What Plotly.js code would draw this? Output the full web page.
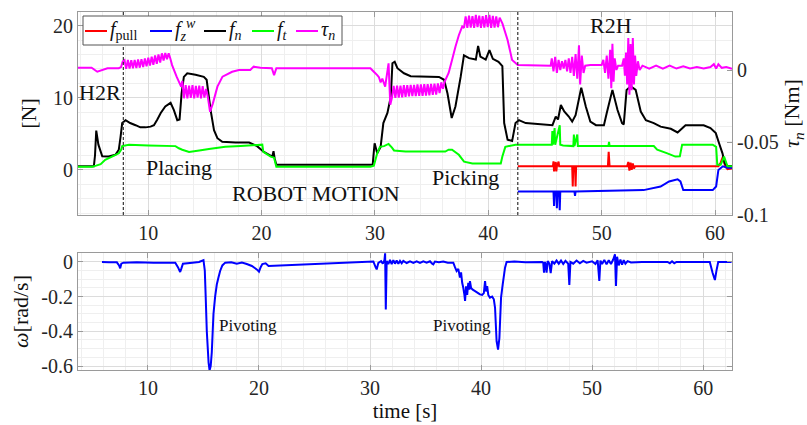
<!DOCTYPE html>
<html>
<head>
<meta charset="utf-8">
<script src="https://cdn.plot.ly/plotly-3.0.1.min.js"></script>
<style>
  html, body { margin: 0; padding: 0; background: #fff; }
  #chart { width: 807px; height: 425px; }
</style>
</head>
<body>
<div id="chart"></div>
<script>
// ---- Measured signals: [time (s), value] ----

// Pull force f_pull [N]
const pullForce = [[42.6,0.5],[45.7,0.5],[45.75,1.2],[45.8,-0.2],[45.85,0.5],[45.95,1.1],[46.0,-0.2],[46.05,0.5],[46.2,1.15],[46.25,0.5],[47.4,0.5],[47.45,-2.3],[47.5,0.5],[47.65,0.5],[47.7,-2.3],[47.75,0.5],[50.55,0.5],[50.62,2.5],[50.7,0.5],[52.25,0.5],[52.35,1.1],[52.45,-0.1],[52.55,1.0],[52.65,0.0],[52.75,0.9],[52.85,0.2],[52.95,0.5],[60.3,0.5],[60.5,1.0],[60.7,1.85],[60.9,0.5],[61.1,0.1],[61.5,0.2]];

// World-frame vertical force f_z^w [N]
const worldForceZ = [[42.6,-3.0],[45.75,-3.0],[45.8,-5.0],[45.85,-3.0],[46.0,-3.0],[46.05,-5.3],[46.1,-3.0],[46.25,-3.0],[46.3,-5.6],[46.35,-3.0],[47.6,-3.0],[47.65,-3.6],[47.7,-3.0],[53.7,-2.8],[55.2,-2.3],[55.95,-1.6],[56.7,-1.3],[56.95,-1.6],[57.2,-2.8],[59.8,-2.8],[60.1,-2.3],[60.3,0.0],[60.7,0.5],[61.1,0.3],[61.5,0.3]];

// Normal force f_n [N]
const normalForce = [[3.8,0.5],[5.2,0.5],[5.3,2.0],[5.41,5.45],[5.6,3.5],[5.94,1.9],[6.5,1.85],[7.1,2.1],[7.4,2.8],[7.55,4.5],[7.7,6.5],[8.0,6.9],[8.4,6.5],[8.88,6.2],[9.3,5.9],[9.76,5.9],[10.2,6.0],[10.5,6.2],[10.8,7.0],[11.1,7.9],[11.5,8.8],[11.97,9.3],[12.26,8.3],[12.56,6.9],[12.76,7.0],[12.94,10.6],[13.14,12.9],[13.44,13.4],[14.17,13.2],[14.9,12.9],[15.15,12.5],[15.5,8.3],[15.8,5.5],[16.1,4.4],[16.53,3.9],[17.7,3.8],[18.9,3.8],[19.6,3.3],[20.2,2.5],[20.94,1.85],[21.05,2.6],[21.15,1.6],[21.3,0.7],[29.8,0.7],[29.86,1.85],[29.97,3.7],[30.2,2.3],[30.5,3.2],[30.74,6.5],[31.1,7.9],[31.4,10.2],[31.54,14.8],[31.74,15.0],[31.98,14.1],[32.56,13.4],[33.15,13.0],[35.65,12.9],[36.1,12.5],[36.4,10.6],[36.77,7.2],[37.1,8.8],[37.56,12.9],[37.85,15.9],[38.3,15.5],[38.9,15.3],[39.1,17.2],[39.3,15.7],[39.77,15.3],[40.1,16.6],[40.4,15.4],[40.9,15.0],[41.24,14.4],[41.4,6.5],[41.7,4.2],[42.1,4.0],[42.4,6.5],[42.7,6.9],[43.3,6.5],[45.66,6.2],[45.95,7.4],[46.15,7.0],[46.4,9.0],[46.7,8.1],[47.1,7.4],[47.4,6.7],[47.7,7.6],[48.2,11.4],[48.6,8.8],[49.0,6.7],[49.5,6.2],[50.2,6.2],[50.45,7.9],[50.95,11.1],[51.4,8.3],[51.8,6.5],[51.95,6.3],[52.2,11.1],[52.57,11.6],[53.0,11.1],[53.45,8.1],[53.9,6.9],[54.6,6.5],[55.2,6.0],[56.1,5.7],[56.7,5.2],[57.4,6.2],[59.0,6.2],[59.6,5.8],[60.07,5.1],[60.36,3.7],[60.66,2.3],[60.86,0.9],[61.1,0.55],[61.5,0.55]];

// Tangential force f_t [N]
const tangentForce = [[3.8,0.45],[5.06,0.45],[5.4,0.6],[5.8,0.8],[6.2,1.4],[6.8,1.85],[7.4,2.3],[7.6,2.8],[7.7,3.3],[8.3,3.5],[10.0,3.4],[12.4,3.3],[12.7,3.0],[13.0,2.8],[13.6,2.5],[14.5,2.7],[15.35,2.9],[16.8,3.2],[18.15,3.3],[20.06,3.5],[20.15,2.5],[20.8,1.85],[21.1,1.7],[21.3,0.45],[29.6,0.45],[29.9,0.6],[30.2,2.3],[30.44,3.2],[30.8,3.3],[31.2,3.6],[31.5,3.1],[31.68,2.7],[32.7,2.55],[36.2,2.55],[36.5,2.8],[36.8,2.8],[37.4,2.1],[37.86,1.15],[38.6,0.9],[41.1,0.9],[41.24,1.85],[41.5,3.2],[42.4,3.5],[45.6,3.5],[45.65,5.4],[45.7,3.5],[45.85,5.8],[45.9,3.5],[46.3,6.2],[46.35,3.5],[46.6,3.4],[47.5,3.3],[47.55,4.9],[47.6,3.3],[47.85,4.9],[47.9,3.3],[50.6,3.3],[50.65,3.9],[50.7,3.3],[54.6,3.3],[54.9,2.8],[55.8,2.3],[56.5,1.85],[56.9,1.9],[57.1,3.5],[59.8,3.5],[60.1,3.2],[60.2,0.7],[60.5,0.7],[60.8,1.85],[61.1,0.5],[61.5,0.5]];

// Normal torque tau_n [Nm] (right axis)
const normalTorque = [[3.8,0.0016],[5.0,0.0016],[5.5,-0.0012],[6.4,0.0012],[7.4,0.0012],[7.6,0.0020],[7.75,0.0060],
[7.9,0.0068],[8.05,0.0008],[8.2,0.0070],[8.35,0.0010],[8.5,0.0068],[8.65,0.0012],[8.8,0.0070],[8.95,0.0014],[9.1,0.0072],[9.25,0.0016],[9.4,0.0075],[9.55,0.0020],[9.7,0.0080],[9.85,0.0025],[10.0,0.0085],[10.15,0.0030],[10.3,0.0092],[10.45,0.0035],[10.6,0.0100],[10.75,0.0042],[10.9,0.0108],[11.05,0.0052],[11.2,0.0115],[11.35,0.0065],[11.5,0.0118],[11.65,0.0075],[11.8,0.0115],[11.95,0.0078],
[12.1,0.0034],[12.5,-0.0046],[12.9,-0.0115],[13.0,-0.0075],
[13.15,-0.0195],[13.3,-0.0105],[13.45,-0.0195],[13.6,-0.0108],[13.75,-0.0192],[13.9,-0.0105],[14.05,-0.0195],[14.2,-0.0110],[14.35,-0.0190],[14.5,-0.0108],[14.65,-0.0195],[14.8,-0.0112],[14.95,-0.0190],[15.1,-0.0130],
[15.25,-0.0184],[15.45,-0.0288],[15.7,-0.0230],[16.1,-0.0115],[16.55,-0.0046],[17.4,-0.0012],[18.0,0.0],[19.0,0.0],[19.3,0.0023],[19.9,0.0016],[20.9,0.0012],[21.1,-0.0035],[21.3,0.0012],[29.6,0.0012],[29.9,-0.0012],[30.2,-0.0035],[30.35,-0.0050],[30.5,-0.0085],[30.65,-0.0060],[30.9,-0.0115],[31.2,0.0046],[31.35,-0.0240],
[31.5,-0.0190],[31.65,-0.0110],[31.8,-0.0192],[31.95,-0.0108],[32.1,-0.0190],[32.25,-0.0108],[32.4,-0.0188],[32.55,-0.0105],[32.7,-0.0185],[32.85,-0.0104],[33.0,-0.0182],[33.15,-0.0102],[33.3,-0.0180],[33.45,-0.0102],[33.6,-0.0180],[33.75,-0.0100],[33.9,-0.0178],[34.05,-0.0100],[34.2,-0.0178],[34.35,-0.0098],[34.5,-0.0176],[34.65,-0.0098],[34.8,-0.0175],[34.95,-0.0096],[35.1,-0.0172],[35.25,-0.0094],[35.4,-0.0170],[35.55,-0.0092],[35.7,-0.0160],[35.85,-0.0085],[36.0,-0.0130],
[36.15,-0.0080],[36.5,-0.0020],[36.8,0.0069],[37.1,0.0160],[37.4,0.0240],[37.7,0.0300],
[37.85,0.0290],[38.0,0.0370],[38.15,0.0290],[38.3,0.0375],[38.45,0.0292],[38.6,0.0372],[38.75,0.0290],[38.9,0.0380],[39.05,0.0295],[39.2,0.0375],[39.35,0.0290],[39.5,0.0372],[39.65,0.0292],[39.8,0.0378],[39.95,0.0295],[40.1,0.0380],[40.25,0.0290],[40.4,0.0374],[40.55,0.0292],[40.7,0.0370],[40.85,0.0295],[41.0,0.0360],
[41.25,0.0320],[41.7,0.0207],[42.1,0.0069],[42.6,0.0034],[45.5,0.0030],
[45.6,0.008],[45.75,-0.001],[45.9,0.009],[46.05,-0.002],[46.2,0.007],[46.35,0.000],[46.5,0.006],[46.65,0.001],[46.8,0.007],[46.95,-0.001],[47.1,0.008],[47.25,-0.002],[47.4,0.009],[47.55,-0.004],[47.7,0.011],[47.85,-0.006],[48.0,0.017],[48.1,-0.010],[48.25,0.010],[48.4,-0.002],[48.55,0.003],
[49.0,0.0034],[50.0,0.0034],
[50.15,0.007],[50.3,-0.002],[50.45,0.010],[50.6,-0.006],[50.75,0.014],[50.85,-0.0126],[50.95,0.018],[51.05,-0.008],[51.15,0.008],[51.3,0.000],[51.45,0.003],
[51.8,0.003],
[51.95,0.008],[52.05,-0.004],[52.15,0.012],[52.25,-0.010],[52.35,0.022],[52.45,-0.017],[52.55,0.018],[52.65,-0.014],[52.75,0.022],[52.85,-0.010],[52.95,0.010],[53.05,-0.004],[53.2,0.006],[53.35,0.000],
[53.6,0.003],[54.2,0.001],[54.8,0.003],[55.4,0.001],[56.0,0.003],[56.6,0.001],[57.2,0.0025],[57.8,0.001],[58.4,0.002],[59.0,0.001],[59.6,0.002],[59.9,0.004],[60.1,0.001],[60.3,0.004],[60.6,0.0015],[61.0,0.002],[61.5,0.0008]];

// Angular velocity omega [rad/s]
const angularVelocity = [[5.86,0.0],[6.5,-0.002],[7.2,-0.002],[7.4,-0.020],[7.5,-0.037],[7.6,-0.010],[7.8,-0.004],[9.0,-0.002],[10.5,-0.004],[12.46,-0.004],[12.7,-0.030],[12.9,-0.058],[13.0,-0.040],[13.15,-0.010],[14.0,-0.004],[14.6,0.0],[15.0,0.010],[15.12,-0.05],[15.2,-0.20],[15.3,-0.40],[15.46,-0.58],[15.55,-0.625],[15.65,-0.60],[15.75,-0.52],[15.9,-0.30],[16.05,-0.20],[16.2,-0.13],[16.35,-0.09],[16.5,-0.052],[16.7,-0.020],[16.96,-0.004],[17.5,-0.002],[18.0,-0.010],[18.46,-0.004],[18.9,-0.012],[19.36,-0.023],[19.8,-0.043],[20.0,-0.056],[20.15,-0.030],[20.3,-0.012],[20.6,-0.008],[20.86,-0.023],[30.3,0.003],[30.5,-0.030],[30.6,-0.043],[30.75,-0.005],[31.0,0.005],[31.15,-0.010],[31.3,0.010],[31.36,0.050],[31.42,-0.274],[31.5,0.005],
[31.65,-0.012],[31.8,0.012],[31.95,-0.012],[32.1,0.010],[32.25,-0.010],[32.4,0.008],[32.55,-0.010],[32.7,0.006],[32.85,-0.008],[33.0,0.006],[33.3,-0.006],[33.6,0.004],[33.9,-0.006],[34.2,0.004],[34.5,-0.006],[34.8,0.004],[35.1,-0.004],[35.4,0.004],[35.6,-0.010],[35.7,-0.014],[35.85,0.002],[36.2,-0.002],[36.6,0.003],[37.0,-0.004],[37.5,-0.004],
[37.65,-0.030],[37.8,-0.052],[37.95,-0.040],[38.1,-0.090],[38.2,-0.060],[38.3,-0.120],[38.4,-0.149],[38.5,-0.190],[38.56,-0.225],[38.65,-0.140],[38.75,-0.190],[38.85,-0.120],[38.95,-0.160],[39.0,-0.110],[39.1,-0.150],[39.25,-0.160],[39.46,-0.168],[39.7,-0.178],[39.9,-0.187],[40.1,-0.190],[40.25,-0.180],[40.36,-0.110],[40.45,-0.170],[40.55,-0.140],[40.65,-0.190],[40.8,-0.206],[41.0,-0.200],[41.15,-0.215],[41.26,-0.264],[41.4,-0.457],[41.53,-0.505],[41.65,-0.440],[41.8,-0.206],[41.95,-0.130],[42.16,-0.033],[42.3,0.0],
[43.0,0.002],[44.0,-0.002],[45.5,0.0],[45.6,-0.005],[45.67,-0.062],[45.75,0.0],[45.85,-0.020],[45.9,-0.062],[46.0,0.005],[46.15,-0.010],[46.27,-0.065],[46.4,0.005],[46.6,-0.010],[46.8,0.008],[47.0,-0.010],[47.2,0.008],[47.4,-0.012],[47.6,0.006],[47.85,-0.010],[47.95,-0.133],[48.05,0.0],[48.3,-0.010],[48.6,0.008],[48.9,-0.008],[49.2,0.006],[49.5,-0.004],[50.0,0.004],[50.3,-0.012],[50.5,0.010],[50.65,-0.110],[50.75,0.008],[50.9,-0.012],[51.1,0.012],[51.3,-0.014],[51.5,0.010],[51.7,-0.012],[51.9,0.014],[52.06,0.044],[52.15,-0.139],[52.25,0.030],[52.4,-0.020],[52.55,0.014],[52.7,-0.016],[52.85,0.010],[53.0,-0.010],[53.2,0.005],[53.5,-0.003],[54.5,0.0],[56.8,0.0],[57.0,-0.008],[57.2,0.004],[57.4,-0.008],[57.6,0.0],[60.6,0.0],[60.85,-0.062],[61.06,-0.104],[61.2,-0.050],[61.36,0.0],[62.56,0.0]];

// Hand-over instants (H2R, R2H) [s]
const phaseMarks = [7.8, 42.6];

// Legend names and line colours, in legend order
const seriesNames = [
  '<i>f</i><sub>pull</sub>',
  '<i>f</i><sub><i>z</i></sub><sup><i>w</i></sup>',
  '<i>f</i><sub><i>n</i></sub>',
  '<i>f</i><sub><i>t</i></sub>',
  '<i>τ</i><sub><i>n</i></sub>'
];
const seriesColors = ['#ff0000', '#0000ff', '#000000', '#00ff00', '#ff00ff'];

// Tick values / labels
const timeTicks = [10, 20, 30, 40, 50, 60];
const forceTicks = [0, 10, 20];
const torqueTicks = [-0.1, -0.05, 0];
const torqueTickText = ['-0.1', '-0.05', '0'];
const omegaTicks = [-0.6, -0.4, -0.2, 0];
const omegaTickText = ['-0.6', '-0.4', '-0.2', '0'];

// Phase labels
const phaseLabels = [
  {text: 'H2R', t: 5.75, v: 10.7},
  {text: 'Placing', t: 12.67, v: 0.4},
  {text: 'ROBOT MOTION', t: 24.77, v: -3.3},
  {text: 'Picking', t: 37.96, v: -1.0},
  {text: 'R2H', t: 50.8, v: 20.0}
];
const pivotLabels = [
  {text: 'Pivoting', t: 19.03, v: -0.368},
  {text: 'Pivoting', t: 38.29, v: -0.368}
];

// ---- Build traces ----
const col = (arr, i) => arr.map(p => p[i]);
function line(points, name, color, xa, ya) {
  return {
    type: 'scatter', mode: 'lines',
    x: col(points, 0), y: col(points, 1),
    name: name, showlegend: false,
    xaxis: xa, yaxis: ya,
    line: {color: color, width: 2, simplify: false},
    hoverinfo: 'skip'
  };
}

const traces = [
  line(pullForce, seriesNames[0], seriesColors[0], 'x', 'y'),
  line(worldForceZ, seriesNames[1], seriesColors[1], 'x', 'y'),
  line(normalForce, seriesNames[2], seriesColors[2], 'x', 'y'),
  line(tangentForce, seriesNames[3], seriesColors[3], 'x', 'y'),
  line(normalTorque, seriesNames[4], seriesColors[4], 'x', 'y2'),
  line(angularVelocity, 'ω', '#0000ff', 'x2', 'y3')
];

// ---- Layout ----
const W = 807, H = 425;
const M = {l: 78, r: 75, t: 12, b: 55};
const plotW = W - M.l - M.r, plotH = H - M.t - M.b;
// pixel -> paper helpers for the boxed legend
const px2x = px => (px - M.l) / plotW;
const py2y = py => (H - M.b - py) / plotH;

const FONT = 'Liberation Serif, "Times New Roman", serif';
const axisLine = '#9a9a9a';
const base = {
  showline: true, linecolor: axisLine, linewidth: 1,
  ticks: 'inside', ticklen: 5, tickcolor: axisLine,
  showgrid: true, gridcolor: '#dcdcdc', gridwidth: 1,
  zeroline: false,
  tickfont: {family: FONT, size: 20, color: '#262626'}
};

const annotations = phaseLabels.map(a => ({
  text: a.text, x: a.t, y: a.v, xref: 'x', yref: 'y',
  showarrow: false, font: {family: FONT, size: 22, color: '#111'}
})).concat(pivotLabels.map(a => ({
  text: a.text, x: a.t, y: a.v, xref: 'x2', yref: 'y3',
  showarrow: false, font: {family: FONT, size: 17, color: '#111'}
})));

const shapes = phaseMarks.map(t => ({
  type: 'line', xref: 'x', yref: 'y domain', x0: t, x1: t, y0: 0, y1: 1,
  line: {color: '#333', width: 1.2, dash: '3px,2px'}, layer: 'above'
}));

// Boxed legend in the upper-left corner of the force panel
const legendBox = {left: 83, right: 342, top: 16, bottom: 45};
const legendSlots = [85, 150, 204, 252, 296];   // left end of each line sample (px)
const sampleLen = 22, legendRow = 31;
shapes.push({
  type: 'rect', xref: 'paper', yref: 'paper', layer: 'above',
  x0: px2x(legendBox.left), x1: px2x(legendBox.right),
  y0: py2y(legendBox.bottom), y1: py2y(legendBox.top),
  fillcolor: '#ffffff', line: {color: '#555', width: 1}
});
seriesNames.forEach((name, i) => {
  const x0 = legendSlots[i];
  shapes.push({
    type: 'line', xref: 'paper', yref: 'paper', layer: 'above',
    x0: px2x(x0), x1: px2x(x0 + sampleLen), y0: py2y(legendRow), y1: py2y(legendRow),
    line: {color: seriesColors[i], width: 2}
  });
  annotations.push({
    text: name, xref: 'paper', yref: 'paper',
    x: px2x(x0 + sampleLen + 1), y: py2y(legendRow - 1),
    xanchor: 'left', yanchor: 'middle', showarrow: false,
    font: {family: FONT, size: 20, color: '#111'}
  });
});

const layout = {
  width: W, height: H,
  margin: M,
  paper_bgcolor: '#ffffff', plot_bgcolor: '#ffffff',
  font: {family: FONT, size: 20, color: '#262626'},
  hovermode: false,
  showlegend: false,
  xaxis: Object.assign({}, base, {
    domain: [0, 1], anchor: 'y', range: [3.8, 61.5], mirror: 'ticks',
    tickmode: 'array', tickvals: timeTicks,
    minor: {tickmode: 'linear', tick0: 0, dtick: 2, showgrid: true, gridcolor: '#efefef', ticks: ''}
  }),
  yaxis: Object.assign({}, base, {
    domain: [0.433, 1], anchor: 'x', range: [-6.25, 21.9],
    tickmode: 'array', tickvals: forceTicks,
    minor: {tickmode: 'linear', tick0: 0, dtick: 2, showgrid: true, gridcolor: '#efefef', ticks: ''},
    title: {text: '[N]', font: {family: FONT, size: 22, color: '#111'}, standoff: 10}
  }),
  yaxis2: Object.assign({}, base, {
    overlaying: 'y', side: 'right', anchor: 'x', range: [-0.1, 0.04],
    showgrid: false, tickmode: 'array', tickvals: torqueTicks, ticktext: torqueTickText,
    title: {text: '<i>τ</i><sub><i>n</i></sub> [Nm]', font: {family: FONT, size: 22, color: '#111'}, standoff: 8}
  }),
  xaxis2: Object.assign({}, base, {
    domain: [0, 1], anchor: 'y3', range: [3.7, 62.6], mirror: 'ticks',
    tickmode: 'array', tickvals: timeTicks,
    minor: {tickmode: 'linear', tick0: 0, dtick: 2, showgrid: true, gridcolor: '#efefef', ticks: ''},
    title: {text: 'time [s]', font: {family: FONT, size: 21, color: '#111'}, standoff: 4}
  }),
  yaxis3: Object.assign({}, base, {
    domain: [0, 0.327], anchor: 'x2', range: [-0.623, 0.052], mirror: 'ticks',
    tickmode: 'array', tickvals: omegaTicks, ticktext: omegaTickText,
    minor: {tickmode: 'linear', tick0: 0, dtick: 0.05, showgrid: true, gridcolor: '#efefef', ticks: ''},
    title: {text: '<i>ω</i>[rad/s]', font: {family: FONT, size: 22, color: '#111'}, standoff: 6}
  }),
  annotations: annotations,
  shapes: shapes
};

Plotly.newPlot('chart', traces, layout, {staticPlot: true, displayModeBar: false});
</script>
</body>
</html>
